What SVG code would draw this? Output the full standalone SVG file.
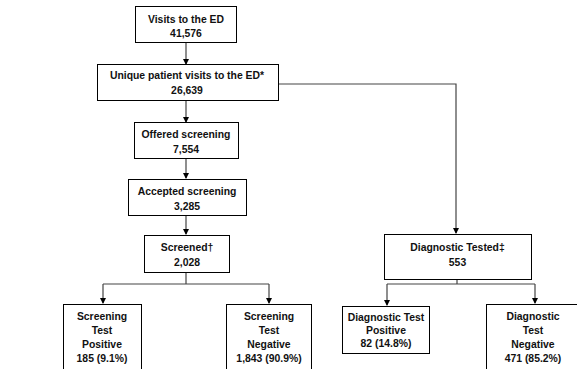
<svg xmlns="http://www.w3.org/2000/svg" width="577" height="369" viewBox="0 0 577 369">
<defs>
<marker id="ah" markerWidth="6" markerHeight="6" refX="5" refY="3" orient="auto" markerUnits="userSpaceOnUse">
<path d="M0,0 L6,3 L0,6 Z" fill="#000"/>
</marker>
<style>
.box{fill:#fff;stroke:#000;stroke-width:1}
.t{font-family:"Liberation Sans",Arial,sans-serif;font-weight:bold;font-size:10.4px;fill:#111;text-anchor:middle}
.c{fill:none;stroke:#444;stroke-width:1.2}
.a{marker-end:url(#ah)}
</style>
</defs>
<rect width="577" height="369" fill="#fff"/>
<g id="connectors">
<path class="c a" d="M186,43 V64"/>
<path class="c a" d="M186,100 V122"/>
<path class="c a" d="M186,159 V178"/>
<path class="c a" d="M186,216 V234"/>
<path class="c a" d="M278,84 H456 V233"/>
<path class="c" d="M186,272 V284 M103,284 H269"/>
<path class="c a" d="M103,284 V303"/>
<path class="c a" d="M269,284 V303"/>
<path class="c" d="M457,279 V284 M387,284 H535"/>
<path class="c a" d="M387,284 V305"/>
<path class="c a" d="M535,284 V303"/>
</g>
<g id="n-visits">
<rect class="box" x="135.5" y="6.5" width="101" height="36"/>
<text class="t" x="186" y="23">Visits to the ED</text>
<text class="t" x="186" y="37">41,576</text>
</g>
<g id="n-unique">
<rect class="box" x="97.5" y="64.5" width="181" height="36"/>
<text class="t" x="187" y="79">Unique patient visits to the ED*</text>
<text class="t" x="187" y="94">26,639</text>
</g>
<g id="n-offered">
<rect class="box" x="134.5" y="122.5" width="104" height="36"/>
<text class="t" x="186" y="138">Offered screening</text>
<text class="t" x="186" y="153">7,554</text>
</g>
<g id="n-accepted">
<rect class="box" x="128.5" y="179.5" width="118" height="36"/>
<text class="t" x="187" y="195">Accepted screening</text>
<text class="t" x="187" y="210">3,285</text>
</g>
<g id="n-screened">
<rect class="box" x="144.5" y="235.5" width="85" height="37"/>
<text class="t" x="187" y="251">Screened†</text>
<text class="t" x="187" y="266">2,028</text>
</g>
<g id="n-diag">
<rect class="box" x="384.5" y="234.5" width="147" height="45"/>
<text class="t" x="457.5" y="251">Diagnostic Tested‡</text>
<text class="t" x="457.5" y="266">553</text>
</g>
<g id="n-spos">
<rect class="box" x="63.5" y="304.5" width="78" height="70"/>
<text class="t" x="102" y="320">Screening</text>
<text class="t" x="102" y="334">Test</text>
<text class="t" x="102" y="348">Positive</text>
<text class="t" x="102" y="362">185 (9.1%)</text>
</g>
<g id="n-sneg">
<rect class="box" x="226.5" y="304.5" width="85" height="70"/>
<text class="t" x="269" y="320">Screening</text>
<text class="t" x="269" y="334">Test</text>
<text class="t" x="269" y="348">Negative</text>
<text class="t" x="269" y="362">1,843 (90.9%)</text>
</g>
<g id="n-dpos">
<rect class="box" x="342.5" y="306.5" width="87" height="47"/>
<text class="t" x="386" y="321">Diagnostic Test</text>
<text class="t" x="386" y="334">Positive</text>
<text class="t" x="386" y="347">82 (14.8%)</text>
</g>
<g id="n-dneg">
<rect class="box" x="486.5" y="304.5" width="95" height="70"/>
<text class="t" x="533" y="320">Diagnostic</text>
<text class="t" x="533" y="334">Test</text>
<text class="t" x="533" y="348">Negative</text>
<text class="t" x="533" y="362">471 (85.2%)</text>
</g>
</svg>
